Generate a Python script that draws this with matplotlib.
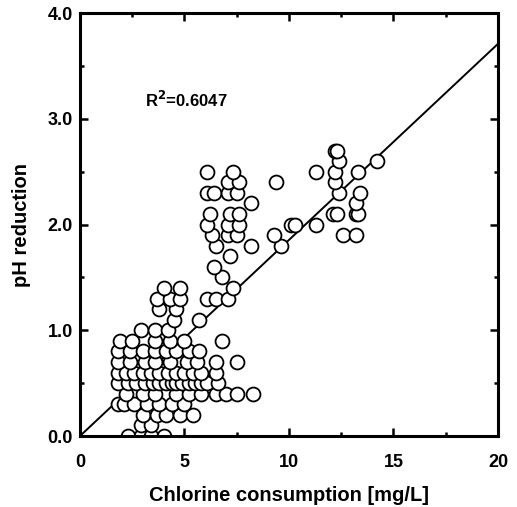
import numpy as np
import matplotlib
matplotlib.use("Agg")
import matplotlib.pyplot as plt
from matplotlib.ticker import MultipleLocator

plt.rcParams['font.family'] = ['Liberation Sans', 'DejaVu Sans']
plt.rcParams['font.weight'] = 'bold'

# pH reduction level -> chlorine consumption values
rows = {
    0.0: [2.3, 2.9, 3.4, 4.0],
    0.1: [2.9, 3.4],
    0.2: [3.0, 3.7, 4.1, 4.8, 5.4],
    0.3: [1.8, 2.1, 2.6, 3.2, 3.8, 4.4, 5.0],
    0.4: [2.2, 3.0, 3.6, 4.6, 5.2, 5.8, 6.5, 7.0, 7.5, 8.3],
    0.5: [1.8, 2.3, 2.7, 3.1, 3.5, 3.8, 4.1, 4.4, 4.6, 4.9, 5.2, 5.5, 5.8, 6.1, 6.6],
    0.6: [1.8, 2.2, 2.6, 3.0, 3.4, 3.8, 4.2, 4.6, 5.0, 5.4, 5.8, 6.5],
    0.7: [1.8, 2.4, 3.1, 3.6, 4.3, 5.1, 5.6, 6.5, 7.5],
    0.8: [1.8, 2.4, 3.0, 3.6, 4.1, 4.6, 5.2, 5.7],
    0.9: [1.9, 2.5, 3.6, 4.3, 5.0, 6.8],
    1.0: [2.9, 3.6, 4.2],
    1.1: [4.5, 5.7],
    1.2: [3.8, 4.6],
    1.3: [3.7, 4.3, 4.8, 6.1, 6.5, 7.1],
    1.4: [4.0, 4.8, 7.3],
    1.5: [6.8],
    1.6: [6.4],
    1.7: [7.2],
    1.8: [6.5, 8.2, 9.6],
    1.9: [6.3, 7.1, 7.5, 9.3, 12.6, 13.2],
    2.0: [6.1, 7.1, 7.6, 10.1, 10.3, 11.3],
    2.1: [6.2, 7.2, 7.6, 12.1, 12.3, 13.2, 13.3],
    2.2: [8.2, 13.2],
    2.3: [6.1, 6.4, 7.1, 7.5, 12.4, 13.4],
    2.4: [7.1, 7.6, 9.4, 12.2],
    2.5: [6.1, 7.3, 11.3, 12.2, 13.3],
    2.6: [12.4, 14.2],
    2.7: [12.2, 12.3],
}

chlorine = []
ph_red = []
for level, xs in rows.items():
    for xv in xs:
        chlorine.append(xv)
        ph_red.append(level)

fit_slope = 0.1855
fit_x = np.array([0.0, 20.0])
r2_text = "R$^\\mathbf{2}$=0.6047"

fig = plt.figure(figsize=(5.17, 5.07), dpi=100)
ax = fig.add_axes([0.1547, 0.140, 0.8085, 0.834])

ax.plot(fit_x, fit_slope * fit_x, color='black', linewidth=1.4, zorder=1)
ax.plot(chlorine, ph_red, 'o', markersize=10, markerfacecolor='white',
        markeredgecolor='black', markeredgewidth=1.3, linestyle='none', zorder=2)

ax.set_xlim(0, 20)
ax.set_ylim(0, 4)
ax.xaxis.set_major_locator(MultipleLocator(5))
ax.xaxis.set_minor_locator(MultipleLocator(2.5))
ax.yaxis.set_major_locator(MultipleLocator(1))
ax.yaxis.set_minor_locator(MultipleLocator(0.5))
ax.set_yticklabels(['%.1f' % v for v in ax.get_yticks()])

for s in ax.spines.values():
    s.set_linewidth(2.2)
ax.tick_params(which='both', direction='in', top=True, right=True, width=1.8)
ax.tick_params(which='major', length=6, labelsize=13)
ax.tick_params(which='minor', length=3)
ax.tick_params(axis='x', pad=13)
ax.tick_params(axis='y', pad=5)

ax.text(3.1, 3.18, r2_text, fontsize=12, fontweight='bold', va='center')

ax.set_xlabel("Chlorine consumption [mg/L]", fontsize=14.5, fontweight='bold', labelpad=11)
ax.set_ylabel("pH reduction", fontsize=14.5, fontweight='bold', labelpad=12)

fig.savefig("out.png", dpi=100)
